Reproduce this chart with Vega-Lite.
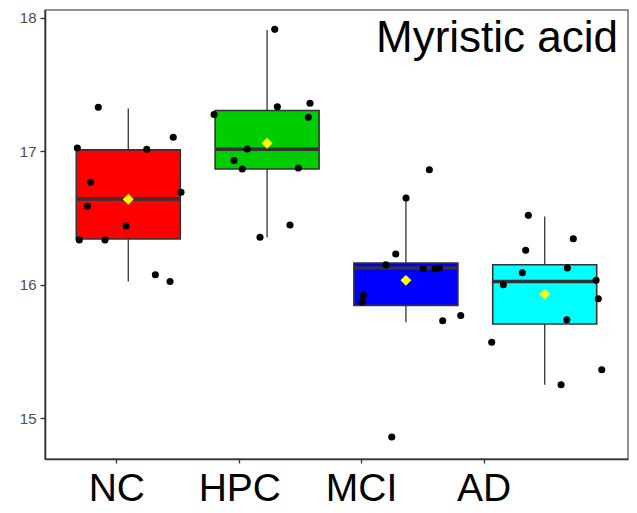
{
  "$schema": "https://vega.github.io/schema/vega-lite/v6.json",
  "width": 583,
  "height": 449,
  "autosize": {"type": "none"},
  "padding": {"left": 45, "top": 10, "right": 9, "bottom": 54},
  "background": "white",
  "config": {
    "font": "Liberation Sans",
    "view": {"stroke": "#6e6e6e", "strokeWidth": 1.5}
  },
  "datasets": {
    "boxes": [
      {"pos": 1, "group": "NC", "lower": 16.025, "q1": 16.343, "median": 16.643, "q3": 17.01, "upper": 17.321, "mean": 16.64},
      {"pos": 2, "group": "HPC", "lower": 16.356, "q1": 16.867, "median": 17.015, "q3": 17.305, "upper": 17.908, "mean": 17.06},
      {"pos": 3, "group": "MCI", "lower": 15.72, "q1": 15.846, "median": 16.125, "q3": 16.163, "upper": 16.655, "mean": 16.033},
      {"pos": 4, "group": "AD", "lower": 15.251, "q1": 15.706, "median": 16.025, "q3": 16.15, "upper": 16.512, "mean": 15.93}
    ],
    "points": [
      {"group": "NC", "x": 0.784, "value": 17.329},
      {"group": "NC", "x": 1.324, "value": 17.105},
      {"group": "NC", "x": 0.633, "value": 17.025},
      {"group": "NC", "x": 1.133, "value": 17.015},
      {"group": "NC", "x": 0.729, "value": 16.768},
      {"group": "NC", "x": 1.38, "value": 16.693},
      {"group": "NC", "x": 0.705, "value": 16.588},
      {"group": "NC", "x": 0.984, "value": 16.44},
      {"group": "NC", "x": 0.647, "value": 16.336},
      {"group": "NC", "x": 0.832, "value": 16.336},
      {"group": "NC", "x": 1.195, "value": 16.075},
      {"group": "NC", "x": 1.301, "value": 16.025},
      {"group": "HPC", "x": 2.055, "value": 17.913},
      {"group": "HPC", "x": 2.074, "value": 17.333},
      {"group": "HPC", "x": 2.309, "value": 17.359},
      {"group": "HPC", "x": 1.618, "value": 17.275},
      {"group": "HPC", "x": 2.297, "value": 17.255},
      {"group": "HPC", "x": 1.857, "value": 17.017},
      {"group": "HPC", "x": 1.762, "value": 16.93},
      {"group": "HPC", "x": 1.821, "value": 16.867},
      {"group": "HPC", "x": 2.225, "value": 16.875},
      {"group": "HPC", "x": 2.165, "value": 16.447},
      {"group": "HPC", "x": 1.949, "value": 16.356},
      {"group": "MCI", "x": 3.169, "value": 16.861},
      {"group": "MCI", "x": 3.001, "value": 16.649},
      {"group": "MCI", "x": 2.927, "value": 16.23},
      {"group": "MCI", "x": 2.855, "value": 16.15},
      {"group": "MCI", "x": 3.125, "value": 16.12},
      {"group": "MCI", "x": 3.21, "value": 16.118},
      {"group": "MCI", "x": 3.241, "value": 16.125},
      {"group": "MCI", "x": 2.693, "value": 15.92},
      {"group": "MCI", "x": 2.684, "value": 15.87},
      {"group": "MCI", "x": 3.395, "value": 15.77},
      {"group": "MCI", "x": 3.265, "value": 15.73},
      {"group": "MCI", "x": 2.898, "value": 14.86},
      {"group": "AD", "x": 3.882, "value": 16.52},
      {"group": "AD", "x": 4.206, "value": 16.345},
      {"group": "AD", "x": 3.863, "value": 16.258},
      {"group": "AD", "x": 4.163, "value": 16.125},
      {"group": "AD", "x": 3.839, "value": 16.09},
      {"group": "AD", "x": 4.37, "value": 16.033},
      {"group": "AD", "x": 3.702, "value": 16.0},
      {"group": "AD", "x": 4.386, "value": 15.895},
      {"group": "AD", "x": 4.159, "value": 15.738},
      {"group": "AD", "x": 3.618, "value": 15.569},
      {"group": "AD", "x": 4.411, "value": 15.363},
      {"group": "AD", "x": 4.118, "value": 15.251}
    ],
    "label": [{"text": "Myristic acid"}]
  },
  "layer": [
    {
      "data": {"name": "boxes"},
      "mark": {"type": "rule", "color": "#333333", "strokeWidth": 1.3},
      "encoding": {
        "x": {"field": "pos", "type": "quantitative"},
        "y": {"field": "lower", "type": "quantitative"},
        "y2": {"field": "upper"}
      }
    },
    {
      "data": {"name": "boxes"},
      "mark": {"type": "bar", "width": 104, "stroke": "#333333", "strokeWidth": 1.6, "opacity": 1},
      "encoding": {
        "x": {"field": "pos", "type": "quantitative"},
        "y": {"field": "q1", "type": "quantitative"},
        "y2": {"field": "q3"},
        "fill": {
          "field": "group", "type": "nominal", "legend": null,
          "scale": {"domain": ["NC", "HPC", "MCI", "AD"], "range": ["#FF0000", "#00CD00", "#0000FF", "#00FFFF"]}
        }
      }
    },
    {
      "data": {"name": "boxes"},
      "mark": {"type": "tick", "orient": "horizontal", "size": 104, "thickness": 3.5, "color": "#333333", "opacity": 1},
      "encoding": {
        "x": {"field": "pos", "type": "quantitative"},
        "y": {"field": "median", "type": "quantitative"}
      }
    },
    {
      "data": {"name": "points"},
      "mark": {"type": "circle", "size": 50, "color": "black", "opacity": 1},
      "encoding": {
        "x": {"field": "x", "type": "quantitative"},
        "y": {"field": "value", "type": "quantitative"}
      }
    },
    {
      "data": {"name": "boxes"},
      "mark": {"type": "point", "shape": "diamond", "size": 120, "filled": true, "color": "#FFFF00", "opacity": 1},
      "encoding": {
        "x": {"field": "pos", "type": "quantitative"},
        "y": {"field": "mean", "type": "quantitative"}
      }
    },
    {
      "data": {"name": "label"},
      "mark": {"type": "text", "align": "right", "baseline": "alphabetic", "fontSize": 44, "color": "black", "font": "Liberation Sans"},
      "encoding": {
        "x": {"datum": 4.528, "type": "quantitative"},
        "y": {"datum": 17.743, "type": "quantitative"},
        "text": {"field": "text"}
      }
    }
  ],
  "resolve": {"scale": {"x": "shared", "y": "shared"}},
  "encoding": {
    "x": {
      "type": "quantitative",
      "scale": {"domain": [0.4, 4.6], "nice": false, "zero": false, "padding": 0},
      "axis": {
        "title": null,
        "grid": false,
        "values": [0.914, 1.8, 2.677, 3.56],
        "labelExpr": "datum.value < 1.2 ? 'NC' : datum.value < 2.2 ? 'HPC' : datum.value < 3 ? 'MCI' : 'AD'",
        "labelFontSize": 39,
        "labelColor": "black",
        "labelPadding": 6,
        "tickSize": 4,
        "tickColor": "#333333",
        "tickWidth": 1.3,
        "domainColor": "#333333",
        "domainWidth": 1.6
      }
    },
    "y": {
      "type": "quantitative",
      "scale": {"domain": [14.695, 18.058], "nice": false, "zero": false, "padding": 0},
      "axis": {
        "title": null,
        "grid": false,
        "values": [15, 16, 17, 18],
        "labelFontSize": 15,
        "labelColor": "#4d4d4d",
        "labelPadding": 4,
        "tickSize": 5,
        "tickColor": "#333333",
        "tickWidth": 1.3,
        "domainColor": "#333333",
        "domainWidth": 1.6
      }
    }
  }
}
